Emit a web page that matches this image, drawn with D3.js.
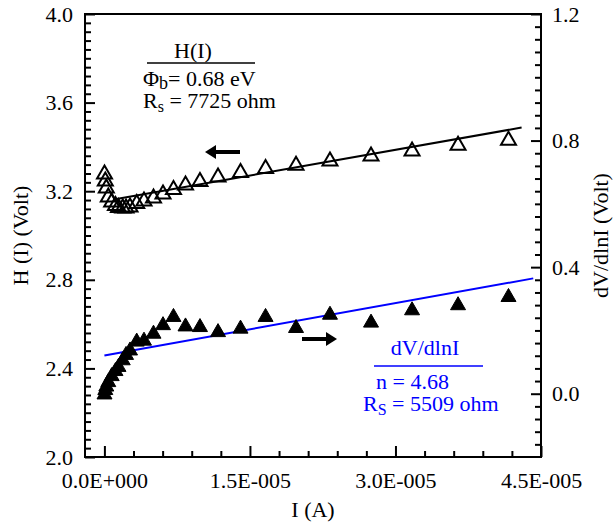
<!DOCTYPE html>
<html>
<head>
<meta charset="utf-8">
<script src="https://cdn.jsdelivr.net/npm/d3@7"></script>
<style>
  html, body { margin: 0; padding: 0; background: #fff; }
  svg { display: block; font-family: "Liberation Serif", "Times New Roman", serif; }
</style>
</head>
<body>
<svg id="chart" width="615" height="526"></svg>
<script>
// Measured current (A) shared by both series
const current = [1.0e-8, 9.3e-8, 1.96e-7, 4.0e-7, 7.5e-7, 1.14e-6, 1.45e-6, 1.89e-6, 2.23e-6,
  2.64e-6, 3.33e-6, 4.08e-6, 5.06e-6, 6.04e-6, 7.12e-6, 8.36e-6, 9.85e-6, 1.171e-5, 1.403e-5,
  1.661e-5, 1.975e-5, 2.325e-5, 2.748e-5, 3.171e-5, 3.645e-5, 4.165e-5];

// H(I) in volts (left axis, open triangles)
const hValues = [3.287, 3.255, 3.223, 3.183, 3.160, 3.144, 3.135, 3.133, 3.133, 3.138, 3.153,
  3.165, 3.178, 3.196, 3.217, 3.237, 3.253, 3.273, 3.293, 3.311, 3.326, 3.345, 3.368, 3.390,
  3.416, 3.439];

// dV/dlnI in volts (right axis, filled triangles)
const dvValues = [0.004, 0.018, 0.029, 0.043, 0.062, 0.078, 0.091, 0.112, 0.129, 0.143, 0.171,
  0.174, 0.196, 0.223, 0.249, 0.219, 0.217, 0.201, 0.212, 0.249, 0.214, 0.256, 0.231, 0.270,
  0.286, 0.312];

// Linear fits: slope = series resistance (ohm), intercept in volts, fitted current range
const hFit = { slope: 7725, intercept: 3.155, from: 1.09e-6, to: 4.30e-5 };
const dvFit = { slope: 5509, intercept: 0.121, from: 0, to: 4.42e-5 };

// Axis ticks
const xTicks = [0, 1.5e-5, 3.0e-5, 4.5e-5];
const xTickLabels = ["0.0E+000", "1.5E-005", "3.0E-005", "4.5E-005"];
const leftTicks = [2.0, 2.4, 2.8, 3.2, 3.6, 4.0];
const rightTicks = [0.0, 0.4, 0.8, 1.2];

const svg = d3.select("#chart");
const FONT = 22;
const plot = { left: 85, right: 541, top: 14, bottom: 457 };

const x = d3.scaleLinear().domain([-2e-6, 4.5e-5]).range([plot.left, plot.right]);
const yL = d3.scaleLinear().domain([2.0, 4.0]).range([plot.bottom, plot.top]);
const yR = d3.scaleLinear().domain([-0.2, 1.2]).range([plot.bottom, plot.top]);

svg.append("rect").attr("width", 615).attr("height", 526).attr("fill", "#fff");

// minor tick positions
const xMinor = d3.range(0, 4.5e-5 + 1e-9, 3e-6).filter(v => !xTicks.some(t => Math.abs(t - v) < 1e-9));
const lMinor = d3.range(0, 51).map(i => +(2.0 + i * 0.04).toFixed(2)).filter(v => v <= 4.0 && !leftTicks.some(t => Math.abs(t - v) < 1e-6));
const rMinor = d3.range(0, 36).map(i => +(-0.2 + i * 0.04).toFixed(2)).filter(v => v > -0.2 && v <= 1.2 && !rightTicks.some(t => Math.abs(t - v) < 1e-6));

function styleAxis(g) {
  g.select(".domain").remove();
  g.selectAll(".tick line").attr("stroke", "#000").attr("stroke-width", 2);
  g.selectAll(".tick text").attr("fill", "#000").attr("font-size", FONT)
    .attr("font-family", "Liberation Serif, Times New Roman, serif");
}

// bottom axis
svg.append("g").attr("transform", `translate(0,${plot.bottom})`)
  .call(d3.axisBottom(x).tickValues(xMinor).tickSize(-6).tickFormat(""))
  .call(styleAxis);
svg.append("g").attr("transform", `translate(0,${plot.bottom})`)
  .call(d3.axisBottom(x).tickValues(xTicks).tickSize(-11).tickPadding(15)
    .tickFormat((d, i) => xTickLabels[i]))
  .call(styleAxis);

// left axis
svg.append("g").attr("transform", `translate(${plot.left},0)`)
  .call(d3.axisLeft(yL).tickValues(lMinor).tickSize(-6).tickFormat(""))
  .call(styleAxis);
svg.append("g").attr("transform", `translate(${plot.left},0)`)
  .call(d3.axisLeft(yL).tickValues(leftTicks).tickSize(-10).tickPadding(12).tickFormat(d3.format(".1f")))
  .call(styleAxis);

// right axis
svg.append("g").attr("transform", `translate(${plot.right},0)`)
  .call(d3.axisRight(yR).tickValues(rMinor).tickSize(-6).tickFormat(""))
  .call(styleAxis);
svg.append("g").attr("transform", `translate(${plot.right},0)`)
  .call(d3.axisRight(yR).tickValues(rightTicks).tickSize(-10).tickPadding(11).tickFormat(d3.format(".1f")))
  .call(styleAxis);

// frame
svg.append("rect")
  .attr("x", plot.left).attr("y", plot.top)
  .attr("width", plot.right - plot.left).attr("height", plot.bottom - plot.top)
  .attr("fill", "none").attr("stroke", "#000").attr("stroke-width", 2);

// axis titles
svg.append("text").attr("x", (plot.left + plot.right) / 2).attr("y", 517)
  .attr("text-anchor", "middle").attr("font-size", FONT).text("I (A)");
svg.append("text").attr("transform", `translate(28,${(plot.top + plot.bottom) / 2}) rotate(-90)`)
  .attr("text-anchor", "middle").attr("font-size", FONT).text("H (I) (Volt)");
svg.append("text").attr("transform", `translate(608,${(plot.top + plot.bottom) / 2}) rotate(-90)`)
  .attr("text-anchor", "middle").attr("font-size", FONT).text("dV/dlnI (Volt)");

// fit lines
const line = (fit, yScale) => [fit.from, fit.to].map(i => [x(i), yScale(fit.intercept + fit.slope * i)]);
svg.append("path").attr("d", d3.line()(line(hFit, yL)))
  .attr("stroke", "#000").attr("stroke-width", 2).attr("fill", "none");
svg.append("path").attr("d", d3.line()(line(dvFit, yR)))
  .attr("stroke", "#0000ff").attr("stroke-width", 2).attr("fill", "none");

// triangle markers
const tri = "M0,-6.5L7.5,6.5L-7.5,6.5Z";
svg.append("g").selectAll("path").data(current.map((c, i) => [c, hValues[i]])).join("path")
  .attr("d", tri).attr("transform", d => `translate(${x(d[0])},${yL(d[1])})`)
  .attr("fill", "none").attr("stroke", "#000").attr("stroke-width", 2);
svg.append("g").selectAll("path").data(current.map((c, i) => [c, dvValues[i]])).join("path")
  .attr("d", tri).attr("transform", d => `translate(${x(d[0])},${yR(d[1])})`)
  .attr("fill", "#000").attr("stroke", "#000").attr("stroke-width", 1);

// axis-direction arrows
function arrow(tipX, tailX, yPos) {
  const dir = Math.sign(tailX - tipX);
  const head = 11;
  svg.append("line").attr("x1", tipX + dir * head * 0.8).attr("x2", tailX)
    .attr("y1", yPos).attr("y2", yPos).attr("stroke", "#000").attr("stroke-width", 4);
  svg.append("path")
    .attr("d", `M${tipX},${yPos}L${tipX + dir * head},${yPos - 7}L${tipX + dir * head},${yPos + 7}Z`)
    .attr("fill", "#000");
}
arrow(205, 240, 152);
arrow(337, 302, 339);

// H(I) annotation
const ann1 = svg.append("g").attr("font-size", FONT).attr("fill", "#000");
ann1.append("text").attr("x", 193).attr("y", 58).attr("text-anchor", "middle").text("H(I)");
ann1.append("line").attr("x1", 147).attr("x2", 255).attr("y1", 63).attr("y2", 63)
  .attr("stroke", "#000").attr("stroke-width", 1.5);
const phi = ann1.append("text").attr("x", 143).attr("y", 86);
phi.append("tspan").text("\u03A6");
phi.append("tspan").attr("dy", 3).attr("font-size", 18).text("b");
phi.append("tspan").attr("dy", -3).text("= 0.68 eV");
const rs1 = ann1.append("text").attr("x", 143).attr("y", 108);
rs1.append("tspan").text("R");
rs1.append("tspan").attr("dy", 4).attr("font-size", 16).text("s");
rs1.append("tspan").attr("dy", -4).text(" = 7725 ohm");

// dV/dlnI annotation
const ann2 = svg.append("g").attr("font-size", FONT).attr("fill", "#0000ff");
ann2.append("text").attr("x", 425).attr("y", 355).attr("text-anchor", "middle").text("dV/dlnI");
ann2.append("line").attr("x1", 374).attr("x2", 483).attr("y1", 366).attr("y2", 366)
  .attr("stroke", "#0000ff").attr("stroke-width", 1.5);
ann2.append("text").attr("x", 376).attr("y", 389).text("n = 4.68");
const rs2 = ann2.append("text").attr("x", 363).attr("y", 411);
rs2.append("tspan").text("R");
rs2.append("tspan").attr("dy", 4).attr("font-size", 16).text("S");
rs2.append("tspan").attr("dy", -4).text(" = 5509 ohm");
</script>
</body>
</html>
